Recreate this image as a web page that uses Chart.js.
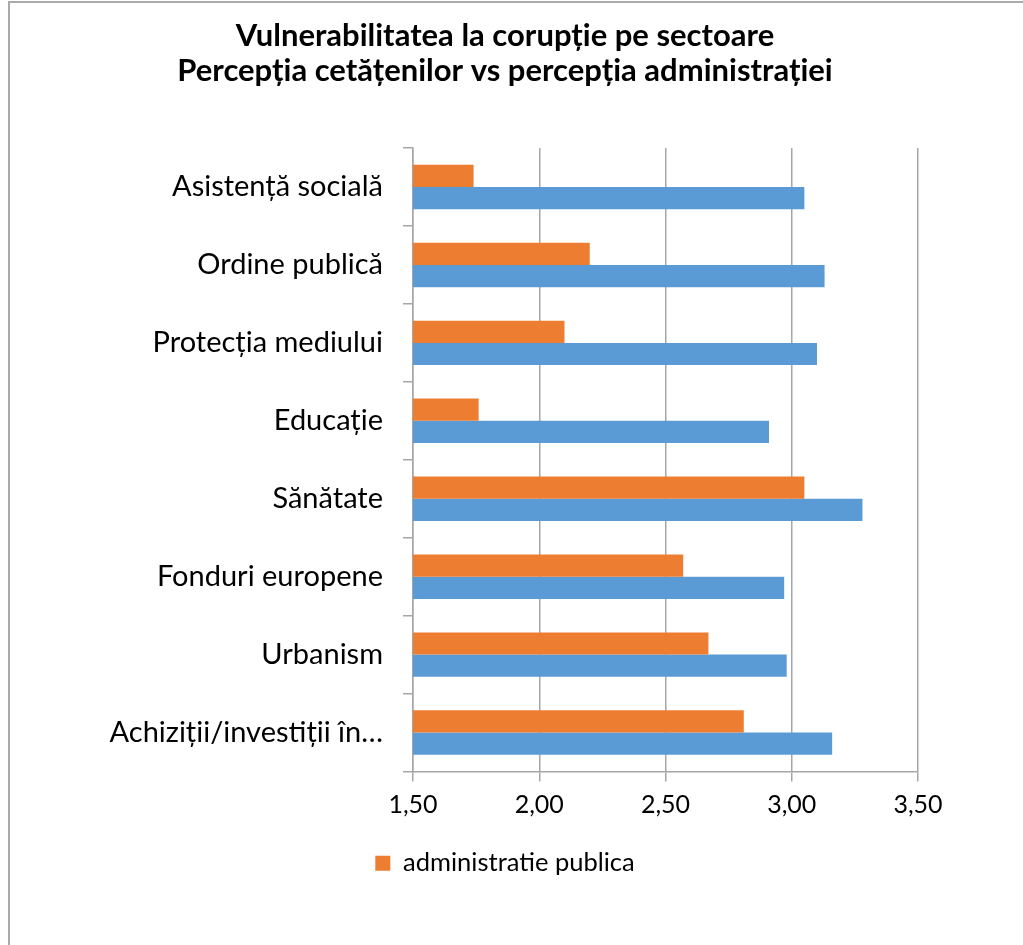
<!DOCTYPE html>
<html>
<head>
<meta charset="utf-8">
<script src="https://cdn.jsdelivr.net/npm/chart.js@4"></script>
<style>
  html, body { margin: 0; padding: 0; background: #fff; }
  #wrap { width: 1023px; height: 945px; position: relative; }
</style>
</head>
<body>
<div id="wrap"><canvas id="myChart" width="1023" height="945"></canvas></div>
<script>
const categories = [
  'Asistență socială',
  'Ordine publică',
  'Protecția mediului',
  'Educație',
  'Sănătate',
  'Fonduri europene',
  'Urbanism',
  'Achiziții/investiții în…'
];

// orange series (shown in legend)
const adminValues = [1.74, 2.20, 2.10, 1.76, 3.05, 2.57, 2.67, 2.81];
// blue series (not shown in legend)
const citizenValues = [3.05, 3.13, 3.10, 2.91, 3.28, 2.97, 2.98, 3.16];

const xTickLabels = ['1,50', '2,00', '2,50', '3,00', '3,50'];

const titleLines = [
  'Vulnerabilitatea la corupție pe sectoare',
  'Percepția cetățenilor vs percepția administrației'
];

const gridColor = '#a6a6a6';
const font = 'Lato';

// grey frame on the left and top edge of the picture
const framePlugin = {
  id: 'frame',
  beforeDraw(chart) {
    const ctx = chart.ctx;
    ctx.save();
    ctx.fillStyle = '#fff';
    ctx.fillRect(0, 0, chart.width, chart.height);
    ctx.strokeStyle = '#ababab';
    ctx.lineWidth = 2;
    ctx.beginPath();
    ctx.moveTo(9, chart.height);
    ctx.lineTo(9, 2);
    ctx.lineTo(chart.width, 2);
    ctx.stroke();
    ctx.restore();
  }
};

const data = {
  labels: categories,
  datasets: [
    {
      label: 'administratie publica',
      data: adminValues,
      backgroundColor: '#ED7D31',
      barPercentage: 1.0,
      categoryPercentage: 0.57
    },
    {
      label: 'cetateni',
      data: citizenValues,
      backgroundColor: '#5B9BD5',
      barPercentage: 1.0,
      categoryPercentage: 0.57
    }
  ]
};

const config = {
  type: 'bar',
  data: data,
  plugins: [framePlugin],
  options: {
    indexAxis: 'y',
    responsive: false,
    animation: false,
    layout: { padding: { left: 92, right: 105, top: 0, bottom: 59 } },
    plugins: {
      title: {
        display: true,
        text: titleLines,
        color: '#000',
        font: { family: font, size: 31, weight: 'bold', lineHeight: 1.13 },
        padding: { top: 18, bottom: 60 }
      },
      legend: {
        position: 'bottom',
        labels: {
          color: '#000',
          font: { family: font, size: 25.5 },
          boxWidth: 15,
          boxHeight: 15,
          padding: 10,
          filter: (item) => item.datasetIndex === 0
        }
      },
      tooltip: { enabled: false }
    },
    scales: {
      x: {
        min: 1.5,
        max: 3.5,
        afterFit: (scale) => { scale.height = 69; },
        ticks: {
          stepSize: 0.5,
          color: '#000',
          padding: 8,
          font: { family: font, size: 25 },
          callback: (v, i) => xTickLabels[i]
        },
        grid: { color: gridColor, lineWidth: 1.5, tickLength: 10 },
        border: { color: gridColor, width: 1.5 }
      },
      y: {
        afterFit: (scale) => { scale.width = 321; },
        ticks: {
          color: '#000',
          padding: 20,
          font: { family: font, size: 29 }
        },
        grid: {
          offset: true,
          drawOnChartArea: false,
          color: gridColor,
          lineWidth: 1.5,
          tickLength: 10
        },
        border: { color: gridColor, width: 1.5 }
      }
    }
  }
};

const myChart = new Chart(document.getElementById('myChart'), config);
</script>
</body>
</html>
